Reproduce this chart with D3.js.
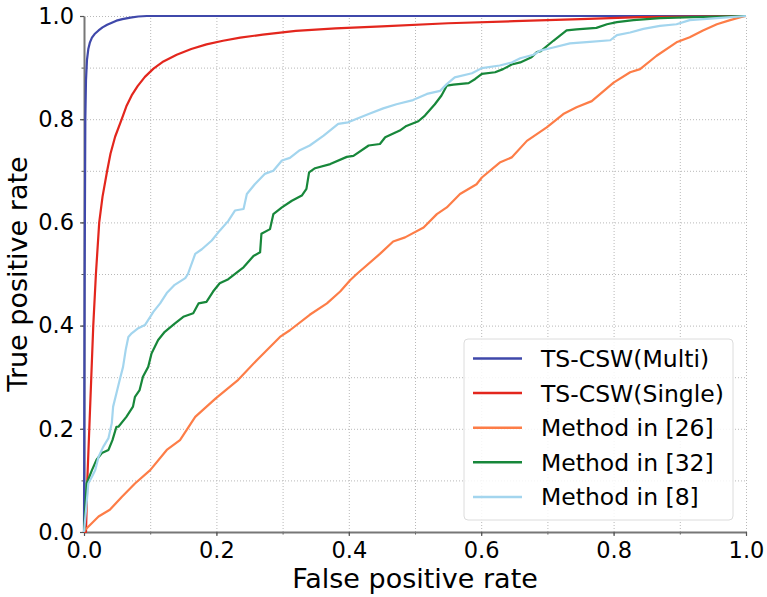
<!DOCTYPE html>
<html>
<head>
<meta charset="utf-8">
<script src="https://cdn.jsdelivr.net/npm/d3@7"></script>
<style>
body { margin: 0; background: #fff; }
svg { font-family: "DejaVu Sans", sans-serif; }
</style>
</head>
<body>
<div id="chart"></div>
<script>
var width = 767,
    height = 597,
    margin = {top: 16, right: 21, bottom: 65, left: 84};

// ROC points: [false positive rate, true positive rate]
var seriesNames = ["TS-CSW(Multi)", "TS-CSW(Single)", "Method in [26]", "Method in [32]", "Method in [8]"];
var seriesColors = ["#3f48aa", "#e3261d", "#fd7d47", "#17873a", "#a3d5ee"];

var rocMulti = [[0, 0], [0.001, 0.5], [0.002, 0.8], [0.003, 0.875], [0.0045, 0.915], [0.0065, 0.936],
  [0.009, 0.949], [0.012, 0.958], [0.016, 0.965], [0.022, 0.972], [0.028, 0.978], [0.035, 0.983],
  [0.042, 0.987], [0.049, 0.991], [0.058, 0.994], [0.07, 0.997], [0.082, 0.999], [0.095, 1.0], [1, 1]];

var rocSingle = [[0, 0], [0.003, 0], [0.005, 0.1], [0.008, 0.2], [0.011, 0.3], [0.014, 0.4], [0.018, 0.5],
  [0.023, 0.6], [0.028, 0.65], [0.035, 0.7], [0.04, 0.733], [0.047, 0.766], [0.057, 0.8], [0.064, 0.825],
  [0.072, 0.846], [0.081, 0.864], [0.092, 0.882], [0.105, 0.898], [0.12, 0.912], [0.14, 0.925],
  [0.162, 0.936], [0.185, 0.945], [0.21, 0.952], [0.236, 0.958], [0.27, 0.964], [0.32, 0.971],
  [0.38, 0.976], [0.45, 0.98], [0.55, 0.986], [0.65, 0.99], [0.75, 0.994], [0.84, 0.998], [1, 1]];

var roc26 = [[0, 0], [0.0015, 0.004], [0.022, 0.03], [0.039, 0.043], [0.057, 0.068], [0.077, 0.094],
  [0.1, 0.12], [0.125, 0.159], [0.145, 0.178], [0.168, 0.223], [0.199, 0.259], [0.233, 0.295],
  [0.261, 0.333], [0.296, 0.378], [0.311, 0.391], [0.341, 0.421], [0.367, 0.443], [0.387, 0.466],
  [0.402, 0.488], [0.412, 0.5], [0.447, 0.539], [0.467, 0.563], [0.485, 0.571], [0.513, 0.59],
  [0.533, 0.616], [0.548, 0.629], [0.568, 0.655], [0.593, 0.674], [0.601, 0.687], [0.628, 0.716],
  [0.646, 0.726], [0.669, 0.758], [0.699, 0.784], [0.724, 0.81], [0.744, 0.823], [0.767, 0.835],
  [0.8, 0.871], [0.825, 0.891], [0.84, 0.897], [0.865, 0.923], [0.895, 0.949], [0.915, 0.959],
  [0.935, 0.972], [0.956, 0.984], [0.976, 0.992], [0.996, 0.999], [1, 1]];

var roc32 = [[0, 0], [0.0015, 0.036], [0.004, 0.094], [0.012, 0.12], [0.019, 0.14], [0.027, 0.153],
  [0.037, 0.159], [0.043, 0.178], [0.049, 0.204], [0.052, 0.204], [0.064, 0.223], [0.074, 0.243],
  [0.077, 0.262], [0.084, 0.275], [0.089, 0.301], [0.097, 0.32], [0.102, 0.346], [0.112, 0.372],
  [0.122, 0.388], [0.137, 0.404], [0.15, 0.417], [0.165, 0.424], [0.173, 0.443], [0.185, 0.446],
  [0.195, 0.466], [0.205, 0.482], [0.218, 0.49], [0.236, 0.508], [0.241, 0.513], [0.256, 0.535],
  [0.266, 0.542], [0.268, 0.578], [0.281, 0.587], [0.286, 0.616], [0.299, 0.629], [0.314, 0.642],
  [0.329, 0.652], [0.336, 0.665], [0.34, 0.697], [0.349, 0.705], [0.372, 0.713], [0.397, 0.727],
  [0.407, 0.729], [0.43, 0.749], [0.447, 0.752], [0.455, 0.765], [0.477, 0.778], [0.487, 0.787],
  [0.505, 0.796], [0.515, 0.807], [0.53, 0.829], [0.54, 0.846], [0.548, 0.865], [0.558, 0.867],
  [0.581, 0.87], [0.591, 0.878], [0.601, 0.888], [0.621, 0.891], [0.633, 0.897], [0.646, 0.906],
  [0.659, 0.91], [0.676, 0.92], [0.684, 0.93], [0.69, 0.932], [0.709, 0.952], [0.719, 0.962],
  [0.729, 0.972], [0.744, 0.974], [0.774, 0.977], [0.79, 0.984], [0.805, 0.988], [0.83, 0.992],
  [0.87, 0.996], [0.92, 0.998], [1, 1]];

var roc8 = [[0, 0], [0.004, 0.056], [0.0065, 0.094], [0.012, 0.107], [0.017, 0.12], [0.022, 0.146],
  [0.029, 0.165], [0.037, 0.182], [0.042, 0.211], [0.044, 0.243], [0.049, 0.269], [0.054, 0.295],
  [0.059, 0.32], [0.063, 0.353], [0.067, 0.378], [0.072, 0.385], [0.082, 0.395], [0.092, 0.401],
  [0.1, 0.417], [0.105, 0.427], [0.115, 0.443], [0.125, 0.463], [0.137, 0.479], [0.153, 0.492],
  [0.157, 0.5], [0.168, 0.539], [0.178, 0.548], [0.193, 0.565], [0.205, 0.584], [0.218, 0.603],
  [0.228, 0.623], [0.241, 0.626], [0.246, 0.655], [0.258, 0.674], [0.273, 0.694], [0.286, 0.7],
  [0.299, 0.72], [0.311, 0.725], [0.326, 0.74], [0.341, 0.749], [0.362, 0.768], [0.384, 0.791],
  [0.399, 0.794], [0.43, 0.81], [0.452, 0.821], [0.472, 0.829], [0.497, 0.837], [0.518, 0.849],
  [0.538, 0.855], [0.548, 0.868], [0.56, 0.881], [0.586, 0.889], [0.601, 0.899], [0.628, 0.904],
  [0.646, 0.91], [0.659, 0.918], [0.679, 0.925], [0.689, 0.933], [0.709, 0.939], [0.734, 0.947],
  [0.764, 0.95], [0.795, 0.953], [0.805, 0.963], [0.825, 0.968], [0.845, 0.975], [0.87, 0.981],
  [0.895, 0.984], [0.915, 0.992], [0.956, 0.996], [1, 1]];

var allSeries = [rocMulti, rocSingle, roc26, roc32, roc8];

var majorTicks = [0, 0.2, 0.4, 0.6, 0.8, 1.0];
var gridTicks = [0, 0.1, 0.2, 0.3, 0.4, 0.5, 0.6, 0.7, 0.8, 0.9, 1.0];

var w = width - margin.left - margin.right,
    h = height - margin.top - margin.bottom;

var svg = d3.select("#chart")
    .append("svg")
    .attr("width", width)
    .attr("height", height);

var g = svg.append("g")
    .attr("transform", "translate(" + margin.left + "," + margin.top + ")");

var x = d3.scaleLinear().domain([0, 1]).range([0, w]);
var y = d3.scaleLinear().domain([0, 1]).range([h, 0]);

// dotted grid every 0.1
g.append("g")
    .attr("class", "grid")
    .attr("transform", "translate(0," + h + ")")
    .call(d3.axisBottom(x).tickValues(gridTicks).tickSize(-h).tickFormat(""))
    .call(function (s) { s.select(".domain").remove(); });

g.append("g")
    .attr("class", "grid")
    .call(d3.axisLeft(y).tickValues(gridTicks).tickSize(-w).tickFormat(""))
    .call(function (s) { s.select(".domain").remove(); });

g.selectAll(".grid line")
    .attr("stroke", "#b8b8b8")
    .attr("stroke-width", 1)
    .attr("stroke-dasharray", "1,2");

// minor ticks
g.append("g")
    .attr("transform", "translate(0," + h + ")")
    .call(d3.axisBottom(x).tickValues(gridTicks).tickSize(2.5).tickFormat(""))
    .call(function (s) { s.select(".domain").remove(); s.selectAll("line").attr("stroke", "#555"); });

g.append("g")
    .call(d3.axisLeft(y).tickValues(gridTicks).tickSize(2.5).tickFormat(""))
    .call(function (s) { s.select(".domain").remove(); s.selectAll("line").attr("stroke", "#555"); });

// major axes
var xAxis = g.append("g")
    .attr("transform", "translate(0," + h + ")")
    .call(d3.axisBottom(x).tickValues(majorTicks).tickSize(4).tickSizeOuter(0).tickPadding(6).tickFormat(d3.format(".1f")));

var yAxis = g.append("g")
    .call(d3.axisLeft(y).tickValues(majorTicks).tickSize(4).tickSizeOuter(0).tickPadding(6).tickFormat(d3.format(".1f")));

[xAxis, yAxis].forEach(function (a) {
    a.select(".domain").attr("stroke", "#777").attr("stroke-width", 2);
    a.selectAll(".tick line").attr("stroke", "#555").attr("stroke-width", 1.2);
    a.selectAll(".tick text")
        .attr("fill", "#000")
        .style("font-size", "22.5px")
        .style("font-family", "DejaVu Sans");
});

// curves
var line = d3.line()
    .x(function (d) { return x(d[0]); })
    .y(function (d) { return y(d[1]); });

allSeries.forEach(function (data, i) {
    g.append("path")
        .datum(data)
        .attr("fill", "none")
        .attr("stroke", seriesColors[i])
        .attr("stroke-width", 2.2)
        .attr("stroke-linejoin", "round")
        .attr("d", line);
});

// axis labels
svg.append("text")
    .attr("x", margin.left + w / 2)
    .attr("y", 588)
    .attr("text-anchor", "middle")
    .style("font-size", "27px")
    .text("False positive rate");

svg.append("text")
    .attr("transform", "translate(27," + (margin.top + h / 2) + ")rotate(-90)")
    .attr("text-anchor", "middle")
    .style("font-size", "27px")
    .text("True positive rate");

// legend
var legend = svg.append("g")
    .attr("transform", "translate(464,339)");

legend.append("rect")
    .attr("width", 269)
    .attr("height", 181)
    .attr("rx", 4)
    .attr("fill", "#fff")
    .attr("fill-opacity", 0.85)
    .attr("stroke", "#dcdcdc")
    .attr("stroke-width", 1);

seriesNames.forEach(function (name, i) {
    var ly = 19.5 + i * 34.6;
    legend.append("line")
        .attr("x1", 9)
        .attr("x2", 58)
        .attr("y1", ly)
        .attr("y2", ly)
        .attr("stroke", seriesColors[i])
        .attr("stroke-width", 2.5);
    legend.append("text")
        .attr("x", 77)
        .attr("y", ly)
        .attr("dy", "0.36em")
        .style("font-size", "23.5px")
        .text(name);
});
</script>
</body>
</html>
